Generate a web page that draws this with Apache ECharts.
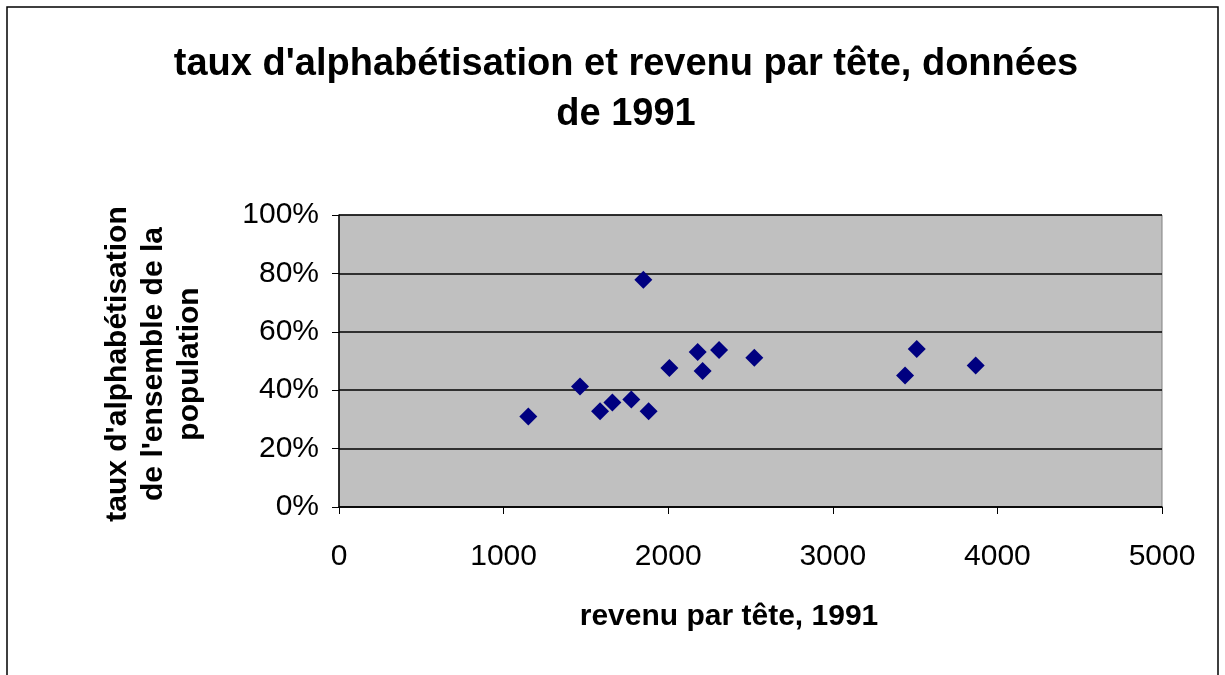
<!DOCTYPE html>
<html>
<head>
<meta charset="utf-8">
<title>taux d'alphabétisation et revenu par tête</title>
<script src="https://cdn.jsdelivr.net/npm/echarts@6/dist/echarts.min.js"></script>
<style>
    html, body { margin: 0; padding: 0; background: #fff; }
    #main { width: 1225px; height: 675px; }
</style>
</head>
<body>
<div id="main"></div>
<script type="text/javascript">
    // revenu par tête (1991) et taux d'alphabétisation
    var revenu = [1150, 1464, 1586, 1661, 1776, 1849, 1881, 2007, 2179, 2209, 2309, 2523, 3439, 3510, 3868];
    var taux = [0.31, 0.413, 0.328, 0.358, 0.368, 0.778, 0.328, 0.476, 0.531, 0.466, 0.538, 0.511, 0.45, 0.541, 0.485];

    var points = [];
    for (var i = 0; i < revenu.length; i++) {
        points.push([revenu[i], taux[i]]);
    }

    var font = 'Liberation Sans, Arial, sans-serif';
    var myChart = echarts.init(document.getElementById('main'));

    var option = {
        animation: false,
        textStyle: { fontFamily: font },
        title: {
            text: "taux d'alphabétisation et revenu par tête, données\nde 1991",
            left: 621,
            top: 35,
            textAlign: 'center',
            textStyle: { fontFamily: font, fontSize: 38, fontWeight: 'bold', color: '#000', lineHeight: 50 }
        },
        grid: {
            left: 339, top: 215, right: 63, bottom: 168,
            show: true,
            backgroundColor: '#C0C0C0',
            borderColor: '#808080',
            borderWidth: 1
        },
        xAxis: {
            type: 'value',
            min: 0, max: 5000, interval: 1000,
            axisLine: { show: true, lineStyle: { color: '#000', width: 1.5 } },
            axisTick: { show: true, length: 7, lineStyle: { color: '#000' } },
            axisLabel: {
                fontSize: 30, color: '#000', margin: 35, fontFamily: font,
                formatter: function (v) { return String(v); }
            },
            splitLine: { show: false }
        },
        yAxis: {
            type: 'value',
            min: 0, max: 1, interval: 0.2,
            axisLine: { show: true, lineStyle: { color: '#000', width: 1.5 } },
            axisTick: { show: true, length: 7, lineStyle: { color: '#000' } },
            axisLabel: {
                fontSize: 30, color: '#000', margin: 20, fontFamily: font,
                formatter: function (v) { return Math.round(v * 100) + '%'; }
            },
            splitLine: { show: true, lineStyle: { color: '#000', width: 1.5 } }
        },
        graphic: [
            {
                type: 'rect', z: -1,
                shape: { x: 7, y: 7, width: 1211, height: 700 },
                style: { fill: 'none', stroke: '#000', lineWidth: 1.5 }
            },
            {
                type: 'text',
                x: 729, y: 617,
                style: {
                    text: 'revenu par tête, 1991',
                    font: 'bold 30px ' + font,
                    fill: '#000',
                    align: 'center',
                    verticalAlign: 'middle'
                }
            },
            {
                type: 'text',
                x: 154, y: 364,
                rotation: Math.PI / 2,
                style: {
                    text: "taux d'alphabétisation\nde l'ensemble de la\npopulation",
                    font: 'bold 30px ' + font,
                    fill: '#000',
                    align: 'center',
                    verticalAlign: 'middle',
                    lineHeight: 36
                }
            }
        ],
        series: [
            {
                type: 'scatter',
                symbol: 'diamond',
                symbolSize: [18, 18],
                itemStyle: { color: '#000080', opacity: 1 },
                data: points
            }
        ]
    };

    myChart.setOption(option);
</script>
</body>
</html>
